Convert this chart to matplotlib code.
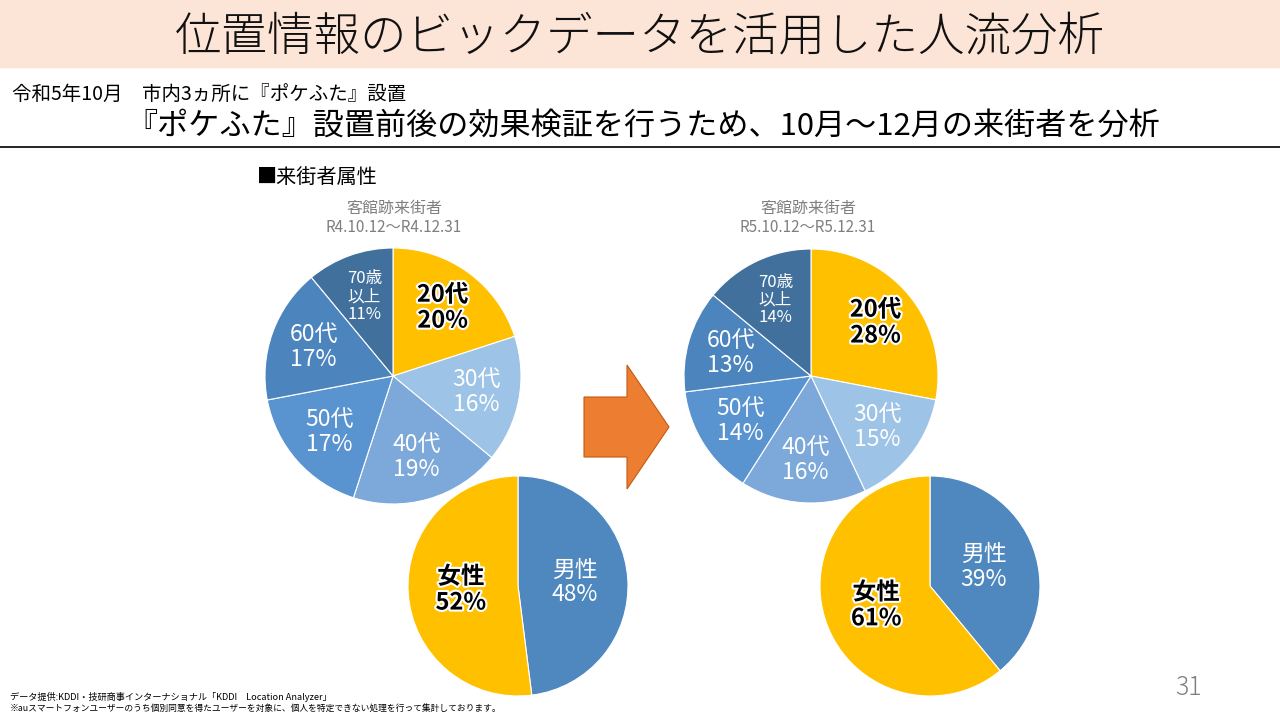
import numpy as np
import matplotlib
matplotlib.use("Agg")
import matplotlib.pyplot as plt
import matplotlib.patheffects as pe
from matplotlib.patches import Rectangle, Polygon

plt.rcParams['font.family'] = ['Noto Sans CJK JP', 'DejaVu Sans']

# data
age_labels = ['20代', '30代', '40代', '50代', '60代', '70歳\n以上']
age_before = [20, 16, 19, 17, 17, 11]
age_after = [28, 15, 16, 14, 13, 14]
sex_labels = ['男性', '女性']
sex_before = [48, 52]
sex_after = [39, 61]
period_before = 'R4.10.12～R4.12.31'
period_after = 'R5.10.12～R5.12.31'

age_colors = ['#FFC000', '#9DC3E6', '#7CA8DA', '#5A94D0', '#4C84BE', '#41709D']
sex_colors = ['#4F88BE', '#FFC000']

W, H = 1280, 720
fig = plt.figure(figsize=(12.8, 7.2), dpi=100)
bg = fig.add_axes([0, 0, 1, 1])
bg.set_xlim(0, W)
bg.set_ylim(H, 0)
bg.axis('off')

# header band
bg.add_patch(Rectangle((0, 0), W, 67, color='#FCE4D6', zorder=0))
bg.text(640, 38, '位置情報のビックデータを活用した人流分析', fontsize=33.5,
        ha='center', va='center', color='#111111', fontweight='light')
bg.text(12, 94, '令和5年10月\u3000市内3ヵ所に『ポケふた』設置', fontsize=14,
        ha='left', va='center', color='black')
bg.text(643, 126, '『ポケふた』設置前後の効果検証を行うため、10月～12月の来街者を分析',
        fontsize=22.4, ha='center', va='center', color='black')
bg.plot([0, W], [147, 147], color='black', lw=1.2)

bg.text(257, 177, '■来街者属性', fontsize=14.5, ha='left', va='center', color='black')
for cx, period in [(394, period_before), (808, period_after)]:
    bg.text(cx, 208, '客館跡来街者', fontsize=11.5, ha='center', va='center', color='#7F7F7F')
    bg.text(cx, 228, period, fontsize=11, ha='center', va='center', color='#7F7F7F')

# arrow
bg.add_patch(Polygon([(584, 397), (627, 397), (627, 365), (669, 427),
                      (627, 489), (627, 457), (584, 457)],
                     closed=True, facecolor='#ED7D31', edgecolor='#C55A11', lw=0.8))

bg.text(1188, 688, '31', fontsize=18, ha='center', va='center', color='#7F7F7F',
        fontweight='light')
bg.text(10, 697, 'データ提供:KDDI・技研商事インターナショナル「KDDI\u3000Location Analyzer」',
        fontsize=6.6, ha='left', va='center', color='black')
bg.text(10, 709, '※auスマートフォンユーザーのうち個別同意を得たユーザーを対象に、個人を特定できない処理を行って集計しております。',
        fontsize=6.3, ha='left', va='center', color='black')

bold_fx = [pe.withStroke(linewidth=3, foreground='white')]


def pie_at(cx, cy, r, values, labels, colors, dist, highlight):
    ax = fig.add_axes([(cx - r) / W, 1 - (cy + r) / H, 2 * r / W, 2 * r / H])
    wedges, _ = ax.pie(values, colors=colors, startangle=90, counterclock=False,
                       radius=1, wedgeprops=dict(edgecolor='white', linewidth=0.8))
    ax.set_xlim(-1, 1)
    ax.set_ylim(-1, 1)
    ax.axis('off')
    for w, v, lab in zip(wedges, values, labels):
        mid = np.deg2rad((w.theta1 + w.theta2) / 2)
        x, y = dist * np.cos(mid), dist * np.sin(mid)
        txt = f'{lab}\n{v}%'
        small = '\n' in lab
        if lab == highlight:
            ax.text(x, y, txt, ha='center', va='center', fontsize=17, fontweight='bold',
                    color='black', linespacing=1.1, path_effects=bold_fx)
        else:
            ax.text(x, y, txt, ha='center', va='center',
                    fontsize=12 if small else 16.5, color='white',
                    linespacing=1.05 if small else 1.1)
    return ax


pie_at(393, 376, 128, age_before, age_labels, age_colors, 0.66, '20代')
pie_at(811, 376, 127, age_after, age_labels, age_colors, 0.66, '20代')
pie_at(518, 586, 110, sex_before, sex_labels, sex_colors, 0.52, '女性')
pie_at(930, 586, 110, sex_after, sex_labels, sex_colors, 0.52, '女性')

fig.savefig('out.png', dpi=100)
